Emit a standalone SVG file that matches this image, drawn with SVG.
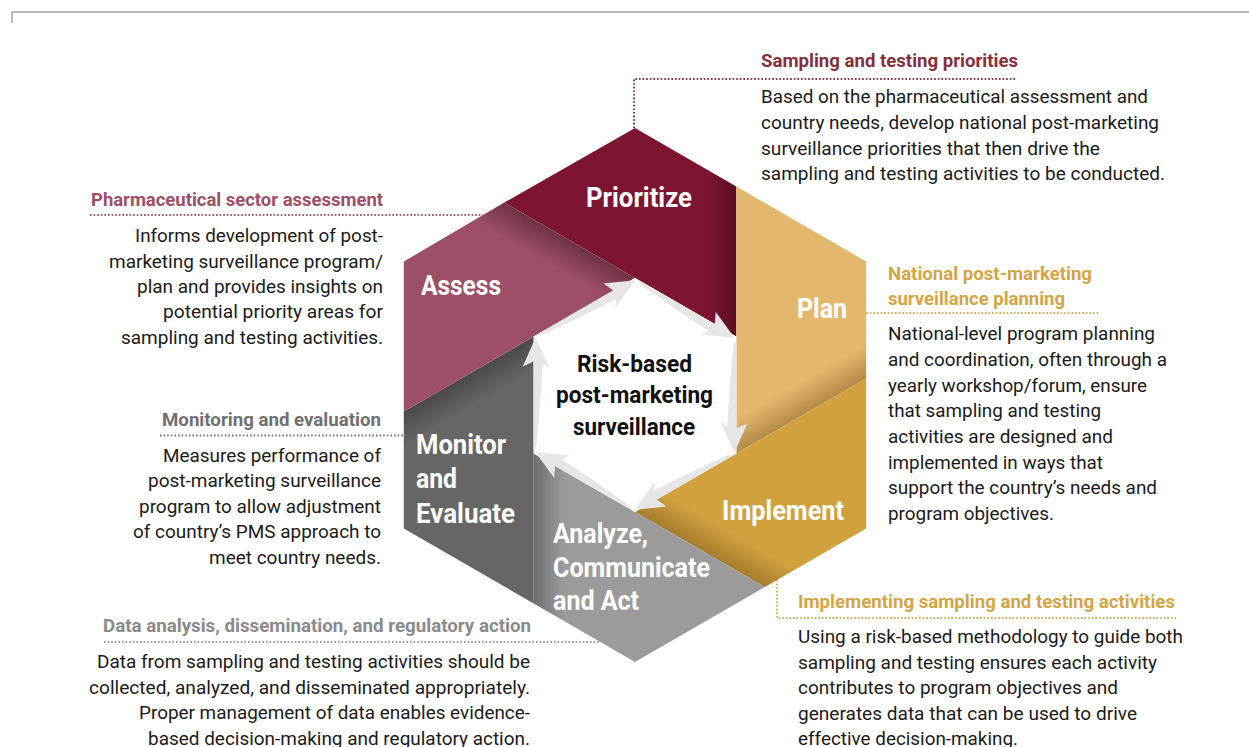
<svg xmlns="http://www.w3.org/2000/svg" xmlns:xlink="http://www.w3.org/1999/xlink" width="1249" height="747" viewBox="0 0 1249 747">
<defs>
<style>
.lbl{font-family:Roboto,"Liberation Sans",sans-serif;font-weight:700;font-size:28px;fill:#ffffff}
.ctr{font-family:Roboto,"Liberation Sans",sans-serif;font-weight:700;font-size:24px;fill:#111111}
.hd{font-family:Roboto,"Liberation Sans",sans-serif;font-weight:700;font-size:19px}
.bd{font-family:Roboto,"Liberation Sans",sans-serif;font-weight:400;font-size:19px;fill:#1a1a1a}
.dot{fill:none;stroke-width:2;stroke-dasharray:1.6 2}
.arw{fill:#e6e6e6}
</style>
<linearGradient id="gAssess" gradientUnits="userSpaceOnUse" x1="570" y1="240.5" x2="555" y2="266.5"><stop offset="0" stop-color="#6e3345"/><stop offset="1" stop-color="#9d4f67"/></linearGradient>
<linearGradient id="gPrior" gradientUnits="userSpaceOnUse" x1="736.3" y1="0" x2="708" y2="0"><stop offset="0" stop-color="#5a0d22"/><stop offset="1" stop-color="#7d1431"/></linearGradient>
<linearGradient id="gPlan" gradientUnits="userSpaceOnUse" x1="736.3" y1="453.5" x2="721.3" y2="427.5"><stop offset="0" stop-color="#b48a48"/><stop offset="1" stop-color="#e3b86e"/></linearGradient>
<linearGradient id="gImpl" gradientUnits="userSpaceOnUse" x1="635" y1="512" x2="650" y2="486"><stop offset="0" stop-color="#a57c2c"/><stop offset="1" stop-color="#d1a13e"/></linearGradient>
<linearGradient id="gAnal" gradientUnits="userSpaceOnUse" x1="533.7" y1="0" x2="563.7" y2="0"><stop offset="0" stop-color="#6e6e6e"/><stop offset="1" stop-color="#9b9b9b"/></linearGradient>
<linearGradient id="gMon" gradientUnits="userSpaceOnUse" x1="533.7" y1="336.5" x2="548.7" y2="362.5"><stop offset="0" stop-color="#4a4a4a"/><stop offset="1" stop-color="#666666"/></linearGradient>
<path id="arrow" class="arw" d="M640.2,281 L714.7,324 L715.8,312 L734.5,337.7 L700.6,334.4 L708.4,330.8 Q674.8,309.1 639,283.2 Z"/>
</defs>

<g id="frame">
<line x1="12" y1="12" x2="1249" y2="12" stroke="#a0a0a0" stroke-width="1.5"/>
<line x1="12" y1="12" x2="12" y2="23" stroke="#777777" stroke-width="1"/>
</g>

<g id="node-prioritize">
<polygon points="504.3,202.5 635,128 736.3,186.5 736.3,336.5 635,278" fill="url(#gPrior)"/>
<text class="lbl" x="586" y="207" textLength="106" lengthAdjust="spacingAndGlyphs">Prioritize</text>
</g>
<g id="node-plan">
<polygon points="736.3,186.5 866.2,261.5 866.2,378.5 736.3,453.5 736.3,336.5" fill="url(#gPlan)"/>
<text class="lbl" x="797" y="318" textLength="50" lengthAdjust="spacingAndGlyphs">Plan</text>
</g>
<g id="node-implement">
<polygon points="866.2,378.5 866.2,528.5 765,587 635,512 736.3,453.5" fill="url(#gImpl)"/>
<text class="lbl" x="722" y="520" textLength="122" lengthAdjust="spacingAndGlyphs">Implement</text>
</g>
<g id="node-analyze">
<polygon points="765,587 635,662 533.7,603.5 533.7,453.5 635,512" fill="url(#gAnal)"/>
<text class="lbl" x="553" y="543" textLength="95" lengthAdjust="spacingAndGlyphs">Analyze,</text>
<text class="lbl" x="553" y="577" textLength="157" lengthAdjust="spacingAndGlyphs">Communicate</text>
<text class="lbl" x="553" y="610" textLength="86" lengthAdjust="spacingAndGlyphs">and Act</text>
</g>
<g id="node-monitor">
<polygon points="533.7,603.5 403.8,528.5 403.8,411.5 533.7,336.5 533.7,453.5" fill="url(#gMon)"/>
<text class="lbl" x="416" y="454" textLength="90" lengthAdjust="spacingAndGlyphs">Monitor</text>
<text class="lbl" x="416" y="488" textLength="41" lengthAdjust="spacingAndGlyphs">and</text>
<text class="lbl" x="416" y="523" textLength="99" lengthAdjust="spacingAndGlyphs">Evaluate</text>
</g>
<g id="node-assess">
<polygon points="403.8,411.5 403.8,261.5 504.3,202.5 635,278 533.7,336.5" fill="url(#gAssess)"/>
<text class="lbl" x="421" y="295" textLength="80" lengthAdjust="spacingAndGlyphs">Assess</text>
</g>

<g id="node-center">
<polygon points="635,278 736.3,336.5 736.3,453.5 635,512 533.7,453.5 533.7,336.5" fill="#ffffff"/>
<text class="ctr" x="577" y="372" textLength="115" lengthAdjust="spacingAndGlyphs">Risk-based</text>
<text class="ctr" x="556" y="403" textLength="157" lengthAdjust="spacingAndGlyphs">post-marketing</text>
<text class="ctr" x="573" y="435" textLength="122" lengthAdjust="spacingAndGlyphs">surveillance</text>
</g>

<g id="cycle-arrows">
<use xlink:href="#arrow"/>
<use xlink:href="#arrow" transform="rotate(60 635 395)"/>
<use xlink:href="#arrow" transform="rotate(120 635 395)"/>
<use xlink:href="#arrow" transform="rotate(180 635 395)"/>
<use xlink:href="#arrow" transform="rotate(240 635 395)"/>
<use xlink:href="#arrow" transform="rotate(300 635 395)"/>
</g>

<g id="connectors">
<polyline class="dot" stroke="#8a3440" points="634,128 634,79 1017,79"/>
<line class="dot" stroke="#a0566c" x1="90" y1="215" x2="483" y2="215"/>
<line class="dot" stroke="#d6ab56" x1="866.2" y1="313" x2="1098" y2="313"/>
<polyline class="dot" stroke="#d6ab56" points="777,580 777,618 1177,618"/>
<line class="dot" stroke="#777777" x1="160" y1="435.5" x2="403.8" y2="435.5"/>
<line class="dot" stroke="#999999" x1="104" y1="642" x2="600.4" y2="642"/>
</g>

<g id="note-prioritize">
<text class="hd" fill="#862f3b" x="761" y="67" textLength="257" lengthAdjust="spacingAndGlyphs">Sampling and testing priorities</text>
<text class="bd" x="761" y="103" textLength="387" lengthAdjust="spacingAndGlyphs">Based on the pharmaceutical assessment and</text>
<text class="bd" x="761" y="129" textLength="398" lengthAdjust="spacingAndGlyphs">country needs, develop national post-marketing</text>
<text class="bd" x="761" y="155" textLength="339" lengthAdjust="spacingAndGlyphs">surveillance priorities that then drive the</text>
<text class="bd" x="761" y="180" textLength="404" lengthAdjust="spacingAndGlyphs">sampling and testing activities to be conducted.</text>
</g>

<g id="note-assess">
<text class="hd" fill="#9e4f66" x="91" y="206" textLength="292" lengthAdjust="spacingAndGlyphs">Pharmaceutical sector assessment</text>
<text class="bd" x="135" y="242" textLength="248" lengthAdjust="spacingAndGlyphs">Informs development of post-</text>
<text class="bd" x="109" y="268" textLength="274" lengthAdjust="spacingAndGlyphs">marketing surveillance program/</text>
<text class="bd" x="137" y="293" textLength="246" lengthAdjust="spacingAndGlyphs">plan and provides insights on</text>
<text class="bd" x="163" y="318" textLength="220" lengthAdjust="spacingAndGlyphs">potential priority areas for</text>
<text class="bd" x="121" y="344" textLength="262" lengthAdjust="spacingAndGlyphs">sampling and testing activities.</text>
</g>

<g id="note-plan">
<text class="hd" fill="#d5a443" x="888" y="280" textLength="204" lengthAdjust="spacingAndGlyphs">National post-marketing</text>
<text class="hd" fill="#d5a443" x="888" y="305" textLength="177" lengthAdjust="spacingAndGlyphs">surveillance planning</text>
<text class="bd" x="888" y="340" textLength="267" lengthAdjust="spacingAndGlyphs">National-level program planning</text>
<text class="bd" x="888" y="366" textLength="279" lengthAdjust="spacingAndGlyphs">and coordination, often through a</text>
<text class="bd" x="888" y="392" textLength="259" lengthAdjust="spacingAndGlyphs">yearly workshop/forum, ensure</text>
<text class="bd" x="888" y="417" textLength="213" lengthAdjust="spacingAndGlyphs">that sampling and testing</text>
<text class="bd" x="888" y="443" textLength="225" lengthAdjust="spacingAndGlyphs">activities are designed and</text>
<text class="bd" x="888" y="469" textLength="215" lengthAdjust="spacingAndGlyphs">implemented in ways that</text>
<text class="bd" x="888" y="494" textLength="269" lengthAdjust="spacingAndGlyphs">support the country’s needs and</text>
<text class="bd" x="888" y="520" textLength="166" lengthAdjust="spacingAndGlyphs">program objectives.</text>
</g>

<g id="note-implement">
<text class="hd" fill="#d5a443" x="798" y="608" textLength="377" lengthAdjust="spacingAndGlyphs">Implementing sampling and testing activities</text>
<text class="bd" x="798" y="643" textLength="385" lengthAdjust="spacingAndGlyphs">Using a risk-based methodology to guide both</text>
<text class="bd" x="798" y="669" textLength="359" lengthAdjust="spacingAndGlyphs">sampling and testing ensures each activity</text>
<text class="bd" x="798" y="694" textLength="320" lengthAdjust="spacingAndGlyphs">contributes to program objectives and</text>
<text class="bd" x="798" y="720" textLength="339" lengthAdjust="spacingAndGlyphs">generates data that can be used to drive</text>
<text class="bd" x="798" y="745" textLength="220" lengthAdjust="spacingAndGlyphs">effective decision-making.</text>
</g>

<g id="note-monitor">
<text class="hd" fill="#707070" x="162" y="426" textLength="219" lengthAdjust="spacingAndGlyphs">Monitoring and evaluation</text>
<text class="bd" x="163" y="462" textLength="218" lengthAdjust="spacingAndGlyphs">Measures performance of</text>
<text class="bd" x="148" y="487" textLength="233" lengthAdjust="spacingAndGlyphs">post-marketing surveillance</text>
<text class="bd" x="139" y="513" textLength="242" lengthAdjust="spacingAndGlyphs">program to allow adjustment</text>
<text class="bd" x="133" y="538" textLength="248" lengthAdjust="spacingAndGlyphs">of country’s PMS approach to</text>
<text class="bd" x="209" y="564" textLength="172" lengthAdjust="spacingAndGlyphs">meet country needs.</text>
</g>

<g id="note-analyze">
<text class="hd" fill="#8a8a8a" x="103" y="632" textLength="428" lengthAdjust="spacingAndGlyphs">Data analysis, dissemination, and regulatory action</text>
<text class="bd" x="97" y="668" textLength="433" lengthAdjust="spacingAndGlyphs">Data from sampling and testing activities should be</text>
<text class="bd" x="89" y="694" textLength="441" lengthAdjust="spacingAndGlyphs">collected, analyzed, and disseminated appropriately.</text>
<text class="bd" x="139" y="719" textLength="391" lengthAdjust="spacingAndGlyphs">Proper management of data enables evidence-</text>
<text class="bd" x="148" y="745" textLength="382" lengthAdjust="spacingAndGlyphs">based decision-making and regulatory action.</text>
</g>
</svg>
